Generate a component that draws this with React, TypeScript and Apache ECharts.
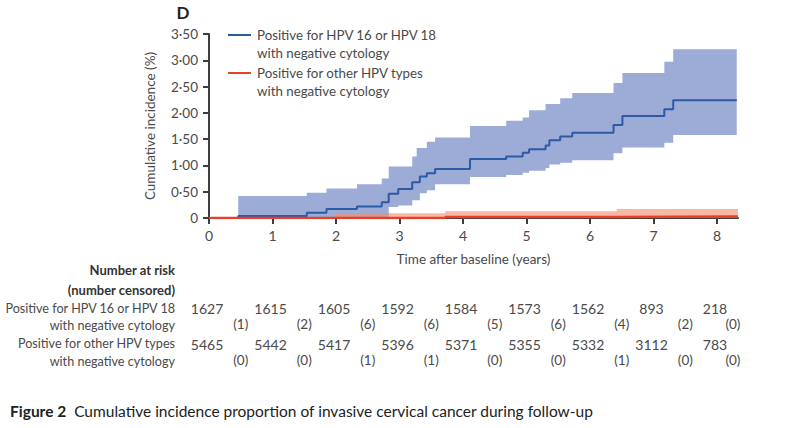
import React, { useEffect, useRef } from "react";
import * as echarts from "echarts";

// ---- Data ----
const xTicks = [0, 1, 2, 3, 4, 5, 6, 7, 8];
const xMax = 8.33;

// HPV 16/18 group: step times, cumulative incidence (%), CI upper/lower
const hpv1618Times = [0.46, 1.54, 1.85, 2.33, 2.72, 2.83, 2.98, 3.2, 3.27, 3.32, 3.43, 3.56, 4.11, 4.68, 4.94, 5.04, 5.3, 5.36, 5.53, 5.72, 6.37, 6.51, 7.17, 7.31];
const hpv1618Est = [0.04, 0.1, 0.17, 0.22, 0.3, 0.46, 0.55, 0.68, 0.68, 0.79, 0.85, 0.93, 1.12, 1.17, 1.24, 1.31, 1.38, 1.48, 1.55, 1.62, 1.77, 1.94, 2.07, 2.24];
const hpv1618Upper = [0.42, 0.48, 0.56, 0.64, 0.75, 0.98, 0.98, 1.17, 1.33, 1.33, 1.45, 1.53, 1.75, 1.85, 1.91, 2.05, 2.17, 2.17, 2.28, 2.38, 2.57, 2.76, 2.97, 3.21];
const hpv1618Lower = [0, 0, 0, 0, 0.02, 0.21, 0.24, 0.34, 0.34, 0.47, 0.53, 0.64, 0.78, 0.82, 0.86, 0.9, 0.95, 1.02, 1.05, 1.1, 1.23, 1.34, 1.43, 1.58];
const hpv1618End = 8.31;

// Other HPV types group
const otherTimes = [0, 2.0, 3.72, 6.42];
const otherEst = [0, 0, 0.02, 0.03];
const otherUpper = [0, 0.09, 0.13, 0.17];
const otherLower = [0, 0, 0, 0];
const otherEnd = 8.33;

// Number at risk table
const riskTimes = [0, 1, 2, 3, 4, 5, 6, 7, 8];
const risk1618 = [1627, 1615, 1605, 1592, 1584, 1573, 1562, 893, 218];
const censored1618 = [1, 2, 6, 6, 5, 6, 4, 2, 0];
const riskOther = [5465, 5442, 5417, 5396, 5371, 5355, 5332, 3112, 783];
const censoredOther = [0, 0, 1, 1, 0, 0, 1, 0, 0];

const seriesNames = [
  ["Positive for HPV 16 or HPV 18", "with negative cytology"],
  ["Positive for other HPV types", "with negative cytology"],
];

const BLUE_LINE = "#2c5aa5";
const BLUE_BAND = "#9dabd7";
const RED_LINE = "#e6402b";
const RED_BAND = "rgba(245,140,110,0.62)";
const TEXT = "#4a4a4a";
const FONT = "Lato, 'Open Sans', sans-serif";

function stepLine(times: number[], vals: number[], end: number) {
  const d: number[][] = [[0, 0]];
  times.forEach((t, i) => d.push([t, vals[i]]));
  d.push([end, vals[vals.length - 1]]);
  return d;
}

function bandRenderer(times: number[], upper: number[], lower: number[], end: number, fill: string) {
  return (params: any, api: any) => {
    const pts: number[][] = [];
    const n = times.length;
    for (let i = 0; i < n; i++) {
      const t0 = times[i];
      const t1 = i < n - 1 ? times[i + 1] : end;
      pts.push(api.coord([t0, upper[i]]), api.coord([t1, upper[i]]));
    }
    for (let i = n - 1; i >= 0; i--) {
      const t0 = times[i];
      const t1 = i < n - 1 ? times[i + 1] : end;
      pts.push(api.coord([t1, lower[i]]), api.coord([t0, lower[i]]));
    }
    return { type: "polygon", shape: { points: pts }, style: { fill } };
  };
}

export default function App() {
  const ref = useRef<HTMLDivElement>(null);
  useEffect(() => {
    if (!ref.current) return;
    const chart = echarts.init(ref.current, null, { renderer: "svg" });
    const option: any = {
      animation: false,
      backgroundColor: "#ffffff",
      textStyle: { fontFamily: FONT },
      grid: { left: 209, top: 34, width: 529, height: 184, containLabel: false },
      xAxis: {
        type: "value",
        min: 0,
        max: xMax,
        interval: 1,
        name: "Time after baseline (years)",
        nameLocation: "middle",
        nameGap: 34,
        nameTextStyle: { color: TEXT, fontSize: 13.5, fontFamily: FONT },
        axisLine: { lineStyle: { color: "#3d3d3d", width: 2 } },
        axisTick: { length: 6, lineStyle: { color: "#3d3d3d", width: 2 }, customValues: xTicks },
        axisLabel: { color: TEXT, fontSize: 14, margin: 10, fontFamily: FONT, customValues: xTicks },
        splitLine: { show: false },
      },
      yAxis: {
        type: "value",
        min: 0,
        max: 3.5,
        interval: 0.5,
        name: "Cumulative incidence (%)",
        nameLocation: "middle",
        nameGap: 52,
        nameRotate: 90,
        nameTextStyle: { color: TEXT, fontSize: 13.5, fontFamily: FONT },
        axisLine: { show: true, lineStyle: { color: "#3d3d3d", width: 2 } },
        axisTick: { show: true, length: 6, lineStyle: { color: "#3d3d3d", width: 2 } },
        axisLabel: {
          color: TEXT,
          fontSize: 13.5,
          margin: 11,
          fontFamily: FONT,
          formatter: (v: number) => (v === 0 ? "0" : v.toFixed(2).replace(".", "·")),
        },
        splitLine: { show: false },
      },
      series: [
        {
          type: "custom",
          data: [[0, 0]],
          renderItem: bandRenderer(hpv1618Times, hpv1618Upper, hpv1618Lower, hpv1618End, BLUE_BAND),
          z: 1,
        },
        {
          type: "custom",
          data: [[0, 0]],
          renderItem: bandRenderer(otherTimes, otherUpper, otherLower, otherEnd, RED_BAND),
          z: 2,
        },
        {
          type: "line",
          step: "end",
          data: stepLine(hpv1618Times, hpv1618Est, hpv1618End),
          showSymbol: false,
          lineStyle: { color: BLUE_LINE, width: 2 },
          z: 3,
        },
        {
          type: "line",
          step: "end",
          data: stepLine(otherTimes, otherEst, otherEnd),
          showSymbol: false,
          lineStyle: { color: RED_LINE, width: 2.5 },
          z: 4,
        },
      ],
    };
    chart.setOption(option);

    const px = (t: number) => chart.convertToPixel({ xAxisIndex: 0 }, t) as number;
    const g: any[] = [];
    const txt = (x: number, y: number, text: string, extra: any = {}) =>
      g.push({
        type: "text",
        x,
        y,
        style: {
          text,
          fill: TEXT,
          fontSize: 13,
          fontFamily: FONT,
          align: "center",
          verticalAlign: "middle",
          ...extra,
        },
      });

    // panel label
    txt(183, 12, "D", { fontSize: 17, fontWeight: "bold", fill: "#222" });

    // legend
    const legendColors = [BLUE_LINE, RED_LINE];
    const legendY = [35, 73];
    seriesNames.forEach((lines, i) => {
      g.push({
        type: "line",
        shape: { x1: 228, y1: legendY[i], x2: 251, y2: legendY[i] },
        style: { stroke: legendColors[i], lineWidth: 2 },
      });
      txt(257, legendY[i], lines[0], { align: "left", fontSize: 13.3 });
      txt(257, legendY[i] + 18, lines[1], { align: "left", fontSize: 13.3 });
    });

    // number at risk table
    txt(175, 270, "Number at risk", { align: "right", fontWeight: "bold", fill: "#333" });
    txt(175, 290, "(number censored)", { align: "right", fontWeight: "bold", fill: "#333" });
    txt(175, 308, seriesNames[0][0], { align: "right", fontSize: 12.6 });
    txt(175, 325, seriesNames[0][1], { align: "right", fontSize: 12.6 });
    txt(175, 343, seriesNames[1][0], { align: "right", fontSize: 12.6 });
    txt(175, 361, seriesNames[1][1], { align: "right", fontSize: 12.6 });

    riskTimes.forEach((t, i) => {
      const cx = px(t) - 2;
      const cc = px(Math.min(t + 0.5, 8.25));
      txt(cx, 308, String(risk1618[i]), { fontSize: 14 });
      txt(cc, 324, "(" + censored1618[i] + ")", { fontSize: 13.5 });
      txt(cx, 344, String(riskOther[i]), { fontSize: 14 });
      txt(cc, 360, "(" + censoredOther[i] + ")", { fontSize: 13.5 });
    });

    // caption
    g.push({
      type: "text",
      x: 10,
      y: 411,
      style: {
        text: "{b|Figure 2}  Cumulative incidence proportion of invasive cervical cancer during follow-up",
        fill: "#222",
        fontSize: 15.5,
        fontFamily: FONT,
        verticalAlign: "middle",
        rich: { b: { fontWeight: "bold", fontSize: 15.5, fontFamily: FONT, fill: "#222" } },
      },
    });

    chart.setOption({ graphic: g });
    return () => chart.dispose();
  }, []);
  return (
    <div
      ref={ref}
      style={{ position: "fixed", left: 0, top: 0, width: 800, height: 428, background: "#fff" }}
    />
  );
}
